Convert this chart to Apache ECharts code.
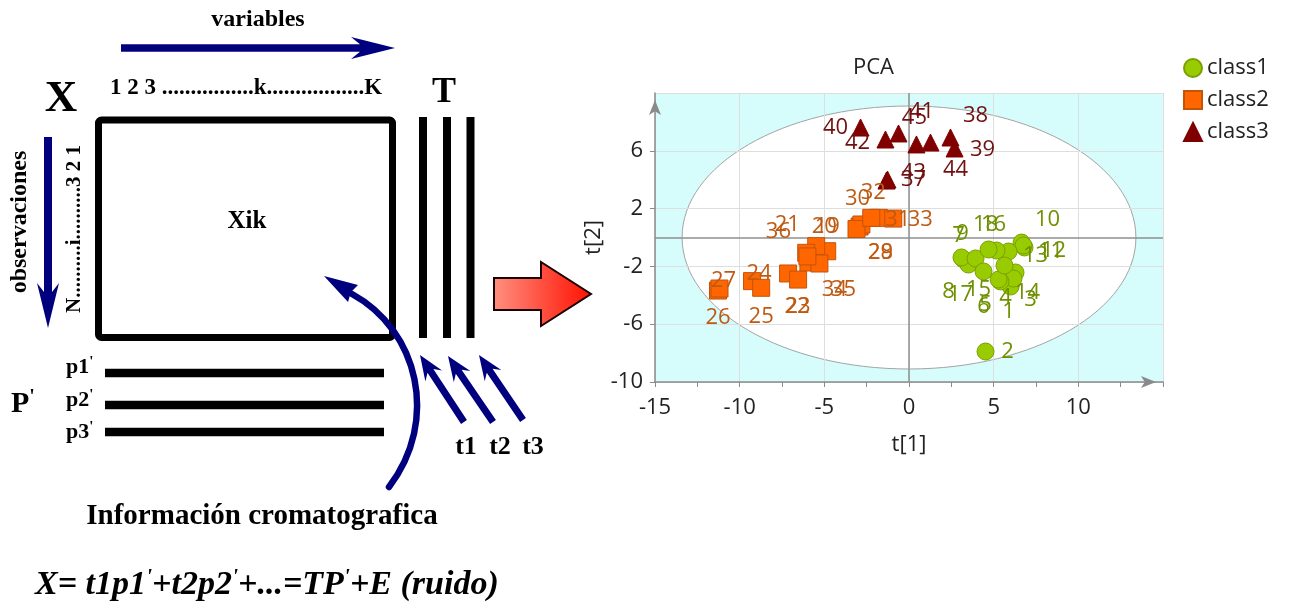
<!DOCTYPE html>
<html>
<head>
<meta charset="utf-8">
<script src="https://cdn.jsdelivr.net/npm/echarts@6/dist/echarts.min.js"></script>
<style>
  html, body { margin: 0; padding: 0; background: #ffffff; }
  #chart { width: 1291px; height: 608px; }
</style>
</head>
<body>
<div id="chart"></div>
<script>
// ---- PCA scores: t[1] and t[2] per observation, one set of arrays per class ----
const class1Ids = [1, 2, 3, 4, 5, 6, 7, 8, 9, 10, 11, 12, 13, 14, 15, 16, 17, 18];
const class1T1  = [6.00, 4.52, 6.29, 6.17, 5.40, 5.29, 3.22, 3.51, 3.10, 6.65, 6.82, 6.76, 5.88, 5.64, 3.93, 5.17, 4.40, 4.70];
const class1T2  = [-3.39, -7.89, -2.42, -2.84, -3.04, -2.91, -1.52, -1.87, -1.38, -0.35, -0.69, -0.55, -0.97, -1.94, -1.45, -0.90, -2.35, -0.83];

const class2Ids = [19, 20, 21, 22, 23, 24, 25, 26, 27, 28, 29, 30, 31, 32, 33, 34, 35, 36];
const class2T1  = [-4.83, -5.48, -6.07, -7.14, -6.55, -9.27, -8.73, -11.28, -11.19, -2.92, -2.81, -3.10, -1.78, -2.23, -0.93, -5.94, -5.29, -6.00];
const class2T2  = [-0.95, -0.60, -1.06, -2.49, -2.91, -3.02, -3.48, -3.67, -3.53, 0.76, 0.90, 0.59, 1.36, 1.36, 1.31, -1.73, -1.80, -1.31];

const class3Ids = [37, 38, 39, 40, 41, 42, 43, 44, 45];
const class3T1  = [-1.33, 2.45, 2.69, -2.86, -0.62, -1.39, -1.27, 1.27, 0.44];
const class3T2  = [3.94, 6.92, 6.16, 7.61, 7.20, 6.78, 4.01, 6.57, 6.44];

const classNames = ['class1', 'class2', 'class3'];

// Axis ranges and steps
const t1Range = [-15, 15], t1Step = 5;
const t2Range = [-10, 10], t2Step = 4;

// Semi-axes of the Hotelling T2 ellipse (in score units)
const ellipseRadius = [13.4, 9.1];

// Where each observation number sits relative to its marker (px)
const labelOffset = {
  1: [-2, 25], 2: [22, 0], 3: [15, 27], 4: [-8, 19], 5: [-15, 23], 6: [-15, 27],
  7: [-5, -24], 8: [-20, 27], 9: [1, -24], 10: [26, -23], 11: [26, 4], 12: [30, 5],
  13: [27, 4], 14: [23, 27], 15: [3, 31], 16: [-3, -26], 17: [-23, 23], 18: [-3, -25],
  19: [0, -24], 20: [8, -19], 21: [-19, -28], 22: [9, 33], 23: [0, 27], 24: [7, -7],
  25: [0, 29], 26: [0, 27], 27: [4, -8], 28: [21, 26], 29: [19, 28], 30: [1, -30],
  31: [19, 2], 32: [2, -25], 33: [27, 1], 34: [26, 27], 35: [24, 26], 36: [-29, -25],
  37: [27, -1], 38: [25, -22], 39: [28, 1], 40: [-25, 0], 41: [23, -22], 42: [-28, 3],
  43: [26, -7], 44: [25, 27], 45: [-2, -27]
};

// ---------------------------------------------------------------------------
const sansFont = '"Open Sans", "Noto Sans", sans-serif';
const serif = '"Liberation Serif", "Times New Roman", serif';
const navy = '#00007f';

function buildPoints(ids, t1, t2) {
  return ids.map((id, i) => ({
    name: String(id),
    value: [t1[i], t2[i]],
    label: { offset: labelOffset[id] || [0, 0] }
  }));
}

function scatterSeries(name, ids, t1, t2, symbol, size, fill, border, textColor) {
  return {
    name: name,
    type: 'scatter',
    z: 4,
    symbol: symbol,
    symbolSize: size,
    data: buildPoints(ids, t1, t2),
    itemStyle: { color: fill, borderColor: border, borderWidth: 1, opacity: 1 },
    label: {
      show: true,
      position: 'inside',
      formatter: '{b}',
      color: textColor,
      fontSize: 22,
      fontFamily: sansFont
    },
    emphasis: { disabled: true }
  };
}

// Straight block arrow with a notched head, returned as polygon points
function arrowPoints(x1, y1, x2, y2, shaft, headLen, headHalf, notch) {
  const dx = x2 - x1, dy = y2 - y1;
  const len = Math.hypot(dx, dy);
  const ux = dx / len, uy = dy / len;
  const nx = -uy, ny = ux;
  const h = shaft / 2;
  const jx = x2 - (headLen - notch) * ux, jy = y2 - (headLen - notch) * uy;
  const bx = x2 - headLen * ux, by = y2 - headLen * uy;
  return [
    [x1 + nx * h, y1 + ny * h],
    [jx + nx * h, jy + ny * h],
    [bx + nx * headHalf, by + ny * headHalf],
    [x2, y2],
    [bx - nx * headHalf, by - ny * headHalf],
    [jx - nx * h, jy - ny * h],
    [x1 - nx * h, y1 - ny * h]
  ];
}

function arrow(x1, y1, x2, y2, shaft, headLen, headHalf, notch) {
  return {
    type: 'polygon',
    silent: true,
    shape: { points: arrowPoints(x1, y1, x2, y2, shaft, headLen, headHalf, notch) },
    style: { fill: navy }
  };
}

function txt(text, x, y, size, opts) {
  opts = opts || {};
  return {
    type: 'text',
    silent: true,
    x: x, y: y,
    rotation: opts.rotation || 0,
    style: {
      text: text,
      x: 0, y: 0,
      font: (opts.style || 'bold') + ' ' + size + 'px ' + serif,
      fill: '#000',
      align: opts.align || 'center',
      verticalAlign: 'middle',
      rich: opts.rich
    }
  };
}

function primed(parts, size, primeSize, italic) {
  // parts: array of [text, hasPrime]
  let s = '';
  parts.forEach(p => {
    s += '{m|' + p[0] + '}';
    if (p[1]) s += '{s|\'}';
  });
  const w = italic ? 'italic bold' : 'bold';
  return {
    text: s,
    rich: {
      m: { font: w + ' ' + size + 'px ' + serif, fill: '#000', lineHeight: size * 1.1, verticalAlign: 'middle' },
      s: { font: w + ' ' + primeSize + 'px ' + serif, fill: '#000', verticalAlign: 'top', lineHeight: size * 1.1 }
    }
  };
}

const pRows = [['p1', 367, 373], ['p2', 400, 405], ['p3', 432, 432]];

const diagram = [];
// matrix X
diagram.push({
  type: 'rect', silent: true,
  shape: { x: 98.5, y: 120, width: 294, height: 217.5, r: 3 },
  style: { fill: 'none', stroke: '#000', lineWidth: 7 }
});
// score vectors T
[423, 447, 470.5].forEach(x => diagram.push({
  type: 'rect', silent: true,
  shape: { x: x - 4, y: 117, width: 8, height: 221 },
  style: { fill: '#000' }
}));
// loading vectors P'
pRows.forEach(r => diagram.push({
  type: 'rect', silent: true,
  shape: { x: 105, y: r[2] - 4.25, width: 279, height: 8.5 },
  style: { fill: '#000' }
}));
// arrows
diagram.push(arrow(121, 48, 395, 48, 7.5, 44, 11, 9));
diagram.push(arrow(48, 137, 48, 328, 8, 45, 11, 9));
diagram.push(arrow(464, 422, 420, 355, 7, 25, 10, 6));
diagram.push(arrow(493, 422, 448, 356, 7, 25, 10, 6));
diagram.push(arrow(523, 420, 479, 355, 7, 25, 10, 6));
// curved arrow from the chromatographic data into X
diagram.push({
  type: 'bezierCurve', silent: true,
  shape: { x1: 389, y1: 487, cpx1: 440, cpy1: 420, cpx2: 418, cpy2: 330, x2: 352, y2: 294 },
  style: { stroke: navy, lineWidth: 6.5, fill: 'none', lineCap: 'round' }
});
diagram.push({
  type: 'polygon', silent: true,
  shape: { points: [[324, 276], [358, 285], [351, 292], [348, 302]] },
  style: { fill: navy }
});
// red block arrow towards the score plot
diagram.push({
  type: 'polygon', silent: true,
  shape: { points: [[494, 278], [541, 278], [541, 262], [591, 294], [541, 326], [541, 310], [494, 310]] },
  style: {
    fill: new echarts.graphic.LinearGradient(0, 0, 1, 0, [
      { offset: 0, color: '#ff9080' },
      { offset: 1, color: '#ff1000' }
    ]),
    stroke: '#1a0000', lineWidth: 2
  }
});
// texts
diagram.push(txt('variables', 258, 20, 24));
diagram.push(txt('X', 61, 99, 45));
diagram.push(txt('1 2 3 ................k.................K', 110, 88, 23, { align: 'left' }));
diagram.push(txt('T', 444, 93, 36));
diagram.push(txt('Xik', 247, 222, 25));
diagram.push(txt('observaciones', 20, 222, 24, { rotation: Math.PI / 2 }));
diagram.push(txt('N..........i..........3 2 1', 75, 229, 21, { rotation: Math.PI / 2 }));
pRows.forEach(r => {
  const p = primed([[r[0], true]], 22, 15, false);
  diagram.push(txt(p.text, 66, r[1], 22, { align: 'left', rich: p.rich }));
});
(function () {
  const p = primed([['P', true]], 30, 20, false);
  diagram.push(txt(p.text, 11, 404, 30, { align: 'left', rich: p.rich }));
})();
diagram.push(txt('t1', 466, 447, 26));
diagram.push(txt('t2', 500, 447, 26));
diagram.push(txt('t3', 533, 447, 26));
diagram.push(txt('Información cromatografica', 262, 517, 29));
(function () {
  const p = primed([['X= t1p1', true], ['+t2p2', true], ['+...=TP', true], ['+E (ruido)', false]], 34, 22, true);
  diagram.push(txt(p.text, 35, 585, 34, { align: 'left', rich: p.rich, style: 'italic bold' }));
})();

const axisGray = '#8a8a8a';
const tickLabel = { fontSize: 22, color: '#222', fontFamily: sansFont };

const option = {
  animation: false,
  backgroundColor: '#ffffff',
  title: {
    text: 'PCA',
    left: 848,
    top: 52,
    textStyle: { fontSize: 22, fontWeight: 'normal', color: '#222', fontFamily: sansFont }
  },
  legend: {
    orient: 'vertical',
    left: 1178,
    top: 52,
    itemWidth: 18,
    itemHeight: 18,
    itemGap: 10,
    data: classNames,
    textStyle: { fontSize: 22, color: '#222', fontFamily: sansFont }
  },
  grid: {
    left: 655, top: 93, width: 508, height: 289,
    show: true, backgroundColor: '#d7fcfc', borderWidth: 0, z: 0
  },
  xAxis: {
    type: 'value',
    min: t1Range[0], max: t1Range[1], interval: t1Step,
    z: 2,
    name: 't[1]', nameLocation: 'middle', nameGap: 52,
    nameTextStyle: { fontSize: 22, color: '#222', fontFamily: sansFont },
    axisLine: {
      show: true, onZero: false,
      symbol: ['none', 'arrow'], symbolSize: [9, 15], symbolOffset: [0, -7],
      lineStyle: { color: axisGray, width: 1.5 }
    },
    axisTick: { show: true, length: 5, lineStyle: { color: axisGray } },
    minorTick: { show: true, splitNumber: 2, length: 5, lineStyle: { color: axisGray } },
    splitLine: { show: true, lineStyle: { color: '#dedede', width: 1 } },
    axisLabel: Object.assign({ showMaxLabel: false, margin: 15 }, tickLabel)
  },
  yAxis: {
    type: 'value',
    min: t2Range[0], max: t2Range[1], interval: t2Step,
    z: 2,
    name: 't[2]', nameLocation: 'middle', nameGap: 50,
    nameTextStyle: { fontSize: 22, color: '#222', fontFamily: sansFont },
    axisLine: {
      show: true, onZero: false,
      symbol: ['none', 'arrow'], symbolSize: [9, 15], symbolOffset: [0, -7],
      lineStyle: { color: axisGray, width: 1.5 }
    },
    axisTick: { show: true, length: 5, lineStyle: { color: axisGray } },
    splitLine: { show: true, lineStyle: { color: '#dedede', width: 1 } },
    axisLabel: Object.assign({ showMaxLabel: false, margin: 12 }, tickLabel)
  },
  graphic: diagram,
  series: [
    {
      name: 'ellipse',
      type: 'custom',
      z: 1,
      silent: true,
      data: [[0, 0]],
      renderItem: function (params, api) {
        const c = api.coord([api.value(0), api.value(1)]);
        const s = api.size([ellipseRadius[0], ellipseRadius[1]]);
        return {
          type: 'ellipse',
          shape: { cx: c[0], cy: c[1], rx: s[0], ry: s[1] },
          style: { fill: '#ffffff', stroke: '#a4a4a4', lineWidth: 1 }
        };
      },
      markLine: {
        silent: true,
        z: 3,
        symbol: 'none',
        label: { show: false },
        lineStyle: { color: '#8f8f8f', width: 1.5, type: 'solid' },
        data: [{ xAxis: 0 }, { yAxis: 0 }]
      }
    },
    scatterSeries('class1', class1Ids, class1T1, class1T2, 'circle', 17, '#99cc00', '#78a000', '#6f9000'),
    scatterSeries('class2', class2Ids, class2T1, class2T2, 'rect', 17, '#ff6600', '#c4530a', '#bf5a12'),
    scatterSeries('class3', class3Ids, class3T1, class3T2, 'triangle', 17, '#800000', '#800000', '#701010')
  ]
};

const chart = echarts.init(document.getElementById('chart'), null, { renderer: 'canvas' });
chart.setOption(option);
</script>
</body>
</html>
